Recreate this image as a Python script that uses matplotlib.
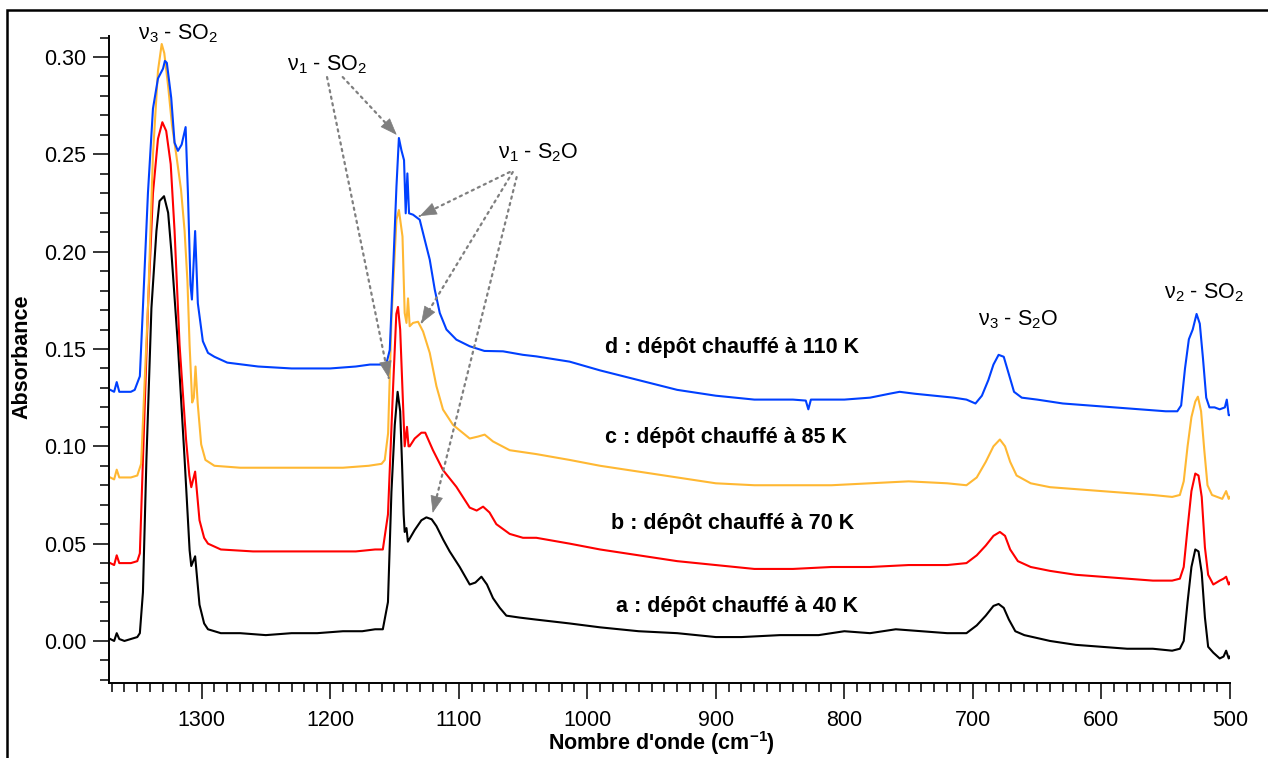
import matplotlib
matplotlib.use('Agg')
import matplotlib.pyplot as plt
from matplotlib.patches import Rectangle
from matplotlib.ticker import MultipleLocator, FormatStrFormatter
import numpy as np

plt.rcParams['font.family'] = ['Liberation Sans', 'DejaVu Sans']
plt.rcParams['mathtext.fontset'] = 'custom'
plt.rcParams['mathtext.rm'] = 'Liberation Sans'
plt.rcParams['mathtext.it'] = 'Liberation Sans:italic'
plt.rcParams['mathtext.bf'] = 'Liberation Sans:bold'

# spectre a : depot chauffe a 40 K
wn_a = [1371, 1368, 1366, 1364, 1360, 1355, 1350, 1348, 1345.6, 1342.9, 1339, 1335.1, 1332.7,
        1329.2, 1326, 1323.6, 1318.4, 1313.2, 1309.3, 1308, 1305, 1301.6, 1298, 1295, 1285,
        1270, 1250, 1230, 1210, 1190, 1175, 1165, 1159, 1155, 1152.3, 1149.7, 1147.5, 1145.5,
        1144, 1142.8, 1142, 1140.6, 1139.5, 1138.6, 1134.2, 1129, 1125.1, 1121, 1117.3, 1112,
        1107, 1099.2, 1091.4, 1087, 1082.3, 1078, 1073.3, 1068, 1062.9, 1052.5, 1040, 1013.7,
        990, 960, 930, 900, 880, 850, 820, 800, 780, 760, 740, 720, 705, 697, 690, 684, 680,
        676, 672, 667, 660, 640, 620, 600, 580, 560, 545, 539, 536, 533, 530, 527, 524.5, 522,
        519.5, 517, 513, 508, 505, 503, 501, 500]
abs_a = [0.001, 0.000, 0.004, 0.001, 0.000, 0.001, 0.002, 0.004, 0.025, 0.093, 0.171, 0.2107, 0.226,
         0.2285, 0.22, 0.201, 0.152, 0.0935, 0.0466, 0.0385, 0.0435, 0.0186, 0.009, 0.006, 0.004,
         0.004, 0.003, 0.004, 0.004, 0.005, 0.005, 0.006, 0.006, 0.02, 0.0766, 0.111, 0.128, 0.118,
         0.09, 0.065, 0.056, 0.058, 0.051, 0.052, 0.057, 0.062, 0.0635, 0.0625, 0.059, 0.052,
         0.046, 0.038, 0.029, 0.030, 0.033, 0.029, 0.022, 0.017, 0.013, 0.012, 0.011, 0.009,
         0.007, 0.005, 0.004, 0.002, 0.002, 0.003, 0.003, 0.005, 0.004, 0.006, 0.005, 0.004, 0.004,
         0.008, 0.013, 0.018, 0.019, 0.017, 0.011, 0.005, 0.003, 0.0, -0.002, -0.003, -0.004,
         -0.004, -0.005, -0.004, 0.0, 0.02, 0.038, 0.047, 0.046, 0.035, 0.012, -0.003, -0.006,
         -0.009, -0.008, -0.005, -0.009, -0.008]

# spectre b : depot chauffe a 70 K
wn_b = [1371, 1368, 1366, 1364, 1360, 1355, 1350, 1348, 1345.6, 1341.7, 1337.8, 1333.9, 1330.5,
        1327.5, 1324, 1321, 1317.1, 1312, 1309.5, 1308, 1305, 1301.6, 1298, 1295, 1285, 1260,
        1230, 1200, 1180, 1165, 1159, 1155, 1151, 1148.5, 1147.2, 1145.5, 1143.3, 1142, 1140.2,
        1139, 1138.1, 1134.2, 1129, 1126, 1120, 1112.2, 1101.8, 1091.4, 1086, 1081, 1076, 1070.7,
        1060.3, 1050, 1039.6, 1013.7, 990, 960, 930, 900, 870, 840, 810, 780, 750, 720, 705, 697,
        690, 684, 679, 675, 671, 665, 655, 640, 620, 600, 580, 560, 545, 539, 536, 533, 530, 527,
        524.5, 522, 519.5, 517, 513, 508, 505, 503, 501, 500]
abs_b = [0.040, 0.039, 0.044, 0.040, 0.040, 0.040, 0.041, 0.045, 0.093, 0.171, 0.23, 0.258, 0.2665,
         0.262, 0.245, 0.2107, 0.152, 0.103, 0.085, 0.079, 0.087, 0.062, 0.053, 0.050, 0.047, 0.046,
         0.046, 0.046, 0.046, 0.047, 0.047, 0.065, 0.1306, 0.168, 0.1716, 0.16, 0.122, 0.100, 0.110,
         0.100, 0.100, 0.104, 0.107, 0.107, 0.098, 0.0878, 0.0792, 0.0685, 0.067, 0.069, 0.066, 0.060,
         0.055, 0.053, 0.053, 0.050, 0.047, 0.044, 0.041, 0.039, 0.037, 0.037, 0.038, 0.038, 0.039,
         0.039, 0.040, 0.044, 0.049, 0.054, 0.056, 0.054, 0.047, 0.041, 0.038, 0.036, 0.034, 0.033,
         0.032, 0.031, 0.031, 0.032, 0.038, 0.058, 0.077, 0.086, 0.085, 0.074, 0.048, 0.034, 0.029,
         0.031, 0.032, 0.033, 0.029, 0.030]

# spectre c : depot chauffe a 85 K
wn_c = [1371, 1368, 1366, 1364, 1360, 1355, 1350, 1347, 1344.5, 1341.7, 1337.8, 1333.9, 1331,
        1329, 1326, 1323, 1319.7, 1316, 1313.2, 1311, 1309.3, 1307.3, 1306, 1304.7, 1303, 1300.3,
        1297, 1290, 1270, 1240, 1210, 1190, 1170, 1160, 1157.5, 1154.9, 1152.3, 1148.4, 1146.5,
        1143.7, 1142, 1140.6, 1139.4, 1138.1, 1135.5, 1131.6, 1127.7, 1122.5, 1117.3, 1112.2,
        1104.4, 1091.4, 1085, 1079.8, 1073.3, 1060.3, 1039.6, 1013.7, 990, 960, 930, 900, 870,
        840, 810, 780, 750, 720, 705, 697, 690, 684, 679, 675, 671, 666, 655, 640, 620, 600, 580,
        560, 545, 539, 536, 533, 530, 527, 525, 522.5, 520, 517.5, 514, 510, 506, 503, 501, 500]
abs_c = [0.084, 0.083, 0.088, 0.084, 0.084, 0.084, 0.085, 0.091, 0.13, 0.1713, 0.2499, 0.293, 0.3067,
         0.302, 0.285, 0.265, 0.2499, 0.232, 0.2107, 0.185, 0.152, 0.1225, 0.125, 0.141, 0.122, 0.101,
         0.093, 0.090, 0.089, 0.089, 0.089, 0.089, 0.090, 0.091, 0.093, 0.1067, 0.165, 0.2164, 0.2214,
         0.2078, 0.1685, 0.1634, 0.176, 0.1617, 0.1634, 0.164, 0.159, 0.148, 0.1309, 0.1189,
         0.111, 0.104, 0.105, 0.106, 0.1025, 0.098, 0.096, 0.093, 0.090, 0.087, 0.084, 0.081, 0.080,
         0.080, 0.080, 0.081, 0.082, 0.081, 0.080, 0.084, 0.092, 0.100, 0.1035, 0.100, 0.092, 0.085,
         0.081, 0.079, 0.078, 0.077, 0.076, 0.075, 0.074, 0.075, 0.082, 0.100, 0.115, 0.123, 0.1255,
         0.118, 0.098, 0.080, 0.075, 0.074, 0.073, 0.077, 0.073, 0.074]

# spectre d : depot chauffe a 110 K
wn_d = [1371, 1368, 1366, 1364, 1360, 1355, 1352, 1348, 1345.6, 1341.7, 1337.8, 1333.9, 1330,
        1328.5, 1327, 1323.6, 1321, 1318.4, 1315.5, 1312.4, 1310.6, 1308.6, 1307.5, 1305, 1302.9,
        1299, 1295, 1290, 1280, 1256, 1230, 1200, 1180, 1169, 1160, 1156.2, 1153.6, 1151, 1148.4,
        1146.5, 1144.5, 1142.5, 1141.2, 1139.9, 1138.6, 1135.5, 1130.3, 1126.4, 1122.5, 1118.6,
        1114.7, 1109.5, 1101.8, 1091.4, 1080, 1065.5, 1050, 1039.6, 1013.7, 990, 960, 930, 900,
        870, 840, 830, 828, 826, 800, 780, 765, 757, 745, 730, 715, 705, 698, 693, 688, 684, 680,
        676, 672, 668, 662, 650, 630, 610, 590, 570, 550, 541, 538, 535, 532, 529, 526, 523.5, 521,
        518.5, 516, 512, 508, 504, 502.5, 501, 500]
abs_d = [0.129, 0.128, 0.133, 0.128, 0.128, 0.128, 0.129, 0.136, 0.1715, 0.2302, 0.2735, 0.289, 0.294,
         0.298, 0.297, 0.279, 0.256, 0.2518, 0.255, 0.264, 0.23, 0.183, 0.1754, 0.2106, 0.1735,
         0.154, 0.148, 0.146, 0.143, 0.141, 0.140, 0.140, 0.141, 0.142, 0.142, 0.1426, 0.1495, 0.1906,
         0.2334, 0.2584, 0.252, 0.247, 0.2197, 0.2402, 0.2197, 0.219, 0.2164, 0.2061, 0.1959, 0.1805,
         0.1685, 0.160, 0.1548, 0.1514, 0.149, 0.1488, 0.147, 0.1462, 0.1435, 0.139, 0.134, 0.129,
         0.126, 0.124, 0.124, 0.1235, 0.119, 0.124, 0.124, 0.125, 0.127, 0.128, 0.127, 0.126, 0.125,
         0.124, 0.122, 0.126, 0.134, 0.142, 0.147, 0.146, 0.137, 0.128, 0.125, 0.124, 0.122, 0.121,
         0.120, 0.119, 0.118, 0.118, 0.121, 0.140, 0.155, 0.160, 0.168, 0.163, 0.145, 0.125, 0.120,
         0.120, 0.119, 0.120, 0.124, 0.116, 0.116]

spectra = [
    (wn_a, abs_a, 'black', 'a : dépôt chauffé à 40 K'),
    (wn_b, abs_b, '#ff0000', 'b : dépôt chauffé à 70 K'),
    (wn_c, abs_c, '#ffb833', 'c : dépôt chauffé à 85 K'),
    (wn_d, abs_d, '#0040ff', 'd : dépôt chauffé à 110 K'),
]

fig = plt.figure(figsize=(12.68, 7.58), dpi=100)
ax = fig.add_axes([109 / 1268, 1 - 683 / 758, 1121 / 1268, 647 / 758])

for wn, ab, col, lab in spectra:
    ax.plot(wn, ab, color=col, lw=1.5)

ax.set_xlim(1372, 500)
ax.set_ylim(-0.0216, 0.3108)

ax.xaxis.set_major_locator(MultipleLocator(100))
ax.xaxis.set_minor_locator(MultipleLocator(10))
ax.yaxis.set_major_locator(MultipleLocator(0.05))
ax.yaxis.set_minor_locator(MultipleLocator(0.01))
ax.yaxis.set_major_formatter(FormatStrFormatter('%.2f'))

for s in ['top', 'right']:
    ax.spines[s].set_visible(False)
for s in ['left', 'bottom']:
    ax.spines[s].set_linewidth(1.4)
ax.tick_params(which='major', direction='out', length=11.5, width=1.1, labelsize=15.5)
ax.tick_params(axis='y', which='major', pad=5)
ax.tick_params(axis='x', which='major', pad=8)
ax.tick_params(which='minor', direction='out', length=6.5, width=1.1)

ax.set_xlabel("Nombre d'onde (cm$^{\\mathbf{-1}}$)", fontsize=15.5, fontweight='bold')
ax.set_ylabel('Absorbance', fontsize=15.5, fontweight='bold')
ax.xaxis.set_label_coords(0.493, -0.072)
ax.yaxis.set_label_coords(-0.068, 0.505)

# etiquettes des spectres
label_pos = {'a': (977.7, 0.0175), 'b': (981.6, 0.0601), 'c': (986.2, 0.1043), 'd': (986.2, 0.151)}
for wn, ab, col, lab in spectra:
    x, y = label_pos[lab[0]]
    ax.text(x, y, lab, fontsize=15.5, fontweight='bold', ha='left', va='center')

# attributions des bandes
bands = [
    ('ν$_3$ - SO$_2$', 1318.4, 0.3118),
    ('ν$_1$ - SO$_2$', 1202.4, 0.2959),
    ('ν$_1$ - S$_2$O', 1038.0, 0.2507),
    ('ν$_3$ - S$_2$O', 664.9, 0.1649),
    ('ν$_2$ - SO$_2$', 520.3, 0.1788),
]
for txt, x, y in bands:
    ax.text(x, y, txt, fontsize=15.5, ha='center', va='center', clip_on=False)

arrows = [
    ((1202.4, 0.2897), (1154.4, 0.1351)),
    ((1190.2, 0.2897), (1148.2, 0.2600)),
    ((1060.3, 0.2409), (1130.3, 0.2183)),
    ((1057.9, 0.2409), (1129.2, 0.1632)),
    ((1054.9, 0.2383), (1120.2, 0.0658)),
]
for start, end in arrows:
    # trait pointille
    ax.annotate('', xy=end, xytext=start,
                arrowprops=dict(arrowstyle='-', color='#7f7f7f', lw=1.6,
                                linestyle=(0, (1, 2)), shrinkA=0, shrinkB=0))
    # pointe pleine
    p0 = ax.transData.transform(start)
    p1 = ax.transData.transform(end)
    d = (p0 - p1) / np.hypot(*(p0 - p1))
    back = d * 12 * 72 / 100
    ax.annotate('', xy=end, xytext=(back[0], back[1]), textcoords='offset points',
                arrowprops=dict(arrowstyle='-|>,head_length=0.8,head_width=0.3',
                                color='#7f7f7f', lw=0.5, shrinkA=0, shrinkB=0,
                                mutation_scale=14))

# cadre autour de la figure
fig.patches.append(Rectangle((7 / 1268, -0.1), 1.2, 0.1 + 1 - 10 / 758, transform=fig.transFigure,
                             fill=False, edgecolor='black', lw=1.8))

fig.savefig('out.png', dpi=100)
